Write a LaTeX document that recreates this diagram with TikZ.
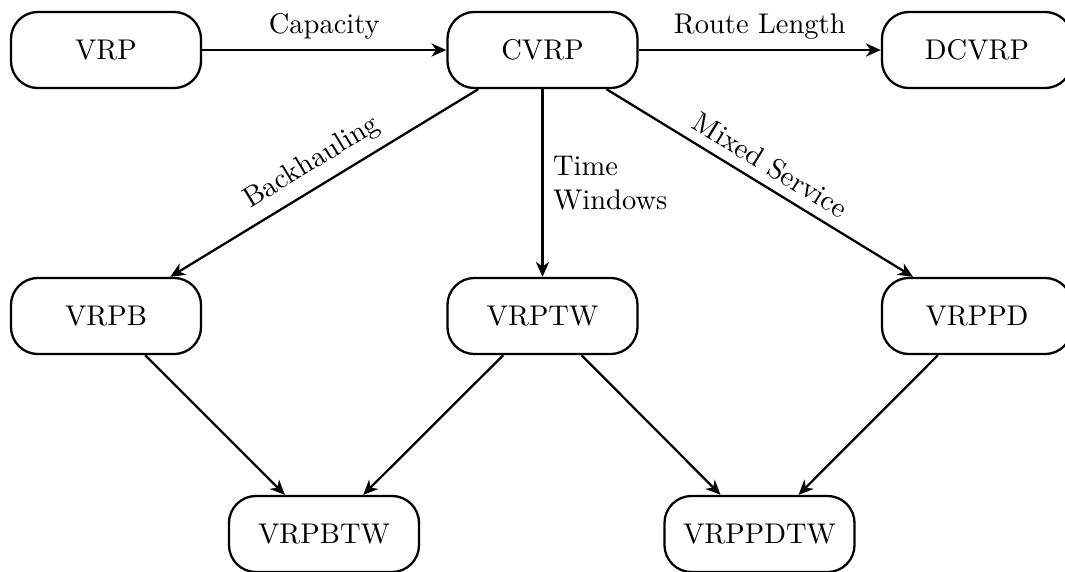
\documentclass[tikz,border=0pt]{standalone}
\usetikzlibrary{arrows.meta}
\begin{document}
\begin{tikzpicture}[x=0.3509pt,y=-0.3509pt,
  prob/.style={draw,thick,rectangle,rounded corners=9.5pt,minimum width=66.7pt,minimum height=26.7pt,inner sep=0pt},
  edge/.style={thick,-{Stealth[length=5.2pt,width=4.6pt,inset=1.6pt]}}]
\useasboundingbox (0,0) rectangle (1065,571);
\node[prob] (vrp) at (106,50) {VRP};
\node[prob] (cvrp) at (542.5,50) {CVRP};
\node[prob] (dcvrp) at (977,50) {DCVRP};
\node[prob] (vrpb) at (106,316) {VRPB};
\node[prob] (vrptw) at (542.5,316) {VRPTW};
\node[prob] (vrppd) at (977,316) {VRPPD};
\node[prob] (vrpbtw) at (324,534) {VRPBTW};
\node[prob] (vrppdtw) at (759.5,534) {VRPPDTW};
\draw[edge] (vrp) -- node[above] {Capacity} (cvrp);
\draw[edge] (cvrp) -- node[above] {Route Length} (dcvrp);
\draw[edge] (cvrp) -- node[above,sloped] {Backhauling} (vrpb);
\draw[edge] (cvrp) -- node[right,align=left] {Time\\Windows} (vrptw);
\draw[edge] (cvrp) -- node[above,sloped] {Mixed Service} (vrppd);
\draw[edge] (vrpb) -- (vrpbtw);
\draw[edge] (vrptw) -- (vrpbtw);
\draw[edge] (vrptw) -- (vrppdtw);
\draw[edge] (vrppd) -- (vrppdtw);
\end{tikzpicture}
\end{document}
